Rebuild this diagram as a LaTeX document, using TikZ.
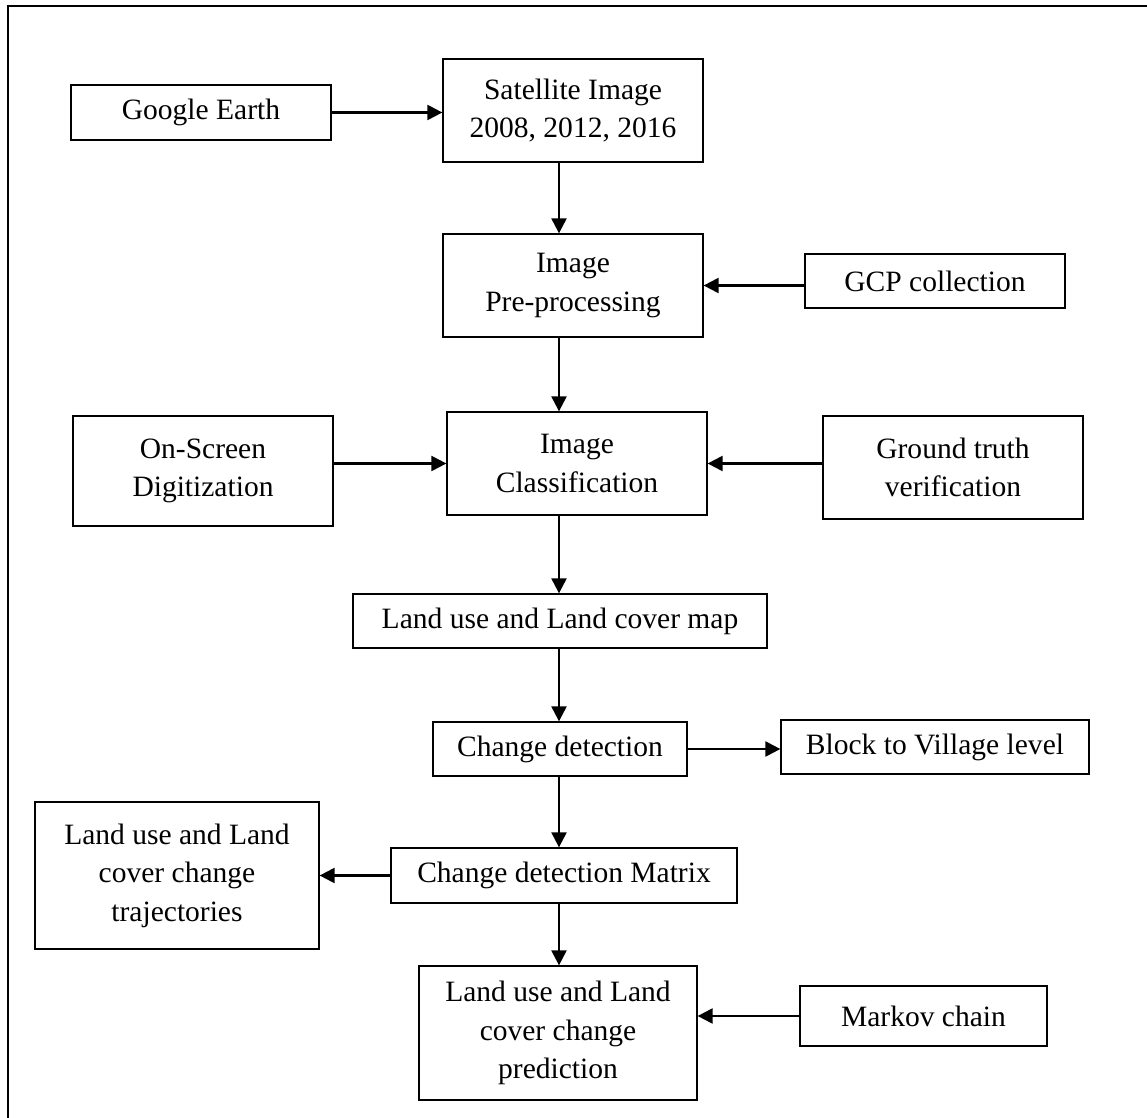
\documentclass[tikz,border=0pt]{standalone}
\usepackage{fontspec}
\setmainfont{Liberation Serif}
\usetikzlibrary{arrows.meta}

\begin{document}
\begin{tikzpicture}[x=0.02cm,y=-0.02cm]
		% Define box and arrow styles
		\tikzset{
			box/.style={draw, line width=0.75pt, align=center, inner sep=0pt, font=\fontsize{16.8pt}{21.9pt}\selectfont},
			flow/.style={-{Triangle[length=8.5pt,width=8.5pt]}, line width=1.25pt}
		}
		
		\useasboundingbox (0,0) rectangle (1147,1118);
		
		% Draw the outer frame (only top and left edges are visible)
		\draw[line width=0.85pt] (8,1118) -- (8,6) -- (1147,6);
		
		% Main column of the flow chart
		\coordinate (axis) at (559,0);
		\node[box, minimum width=5.2cm, minimum height=2.06cm] (sat) at (573,110.5) {Satellite Image\\2008, 2012, 2016};
		\node[box, minimum width=5.2cm, minimum height=2.06cm] (pre) at (573,285.5) {Image\\Pre-processing};
		\node[box, minimum width=5.2cm, minimum height=2.06cm] (cls) at (577,463.5) {Image\\Classification};
		\node[box, minimum width=8.28cm, minimum height=1.08cm] (map) at (560,621) {Land use and Land cover map};
		\node[box, minimum width=5.08cm, minimum height=1.08cm] (cd) at (560,749) {Change detection};
		\node[box, minimum width=6.92cm, minimum height=1.1cm] (cdm) at (564,875.5) {Change detection Matrix};
		\node[box, minimum width=5.56cm, minimum height=2.68cm] (pred) at (558,1033) {Land use and Land\\cover change\\prediction};
		
		% Side boxes
		\node[box, minimum width=5.2cm, minimum height=1.1cm] (ge) at (201,112.5) {Google Earth};
		\node[box, minimum width=5.2cm, minimum height=1.08cm] (gcp) at (935,281) {GCP collection};
		\node[box, minimum width=5.2cm, minimum height=2.2cm] (osd) at (203,471) {On-Screen\\Digitization};
		\node[box, minimum width=5.2cm, minimum height=2.06cm] (gtv) at (953,467.5) {Ground truth\\verification};
		\node[box, minimum width=6.16cm, minimum height=1.08cm] (blk) at (935,747) {Block to Village level};
		\node[box, minimum width=5.68cm, minimum height=2.94cm] (trj) at (177,875.5) {Land use and Land\\cover change\\trajectories};
		\node[box, minimum width=4.94cm, minimum height=1.2cm] (mkv) at (923.5,1016) {Markov chain};
		
		% Vertical arrows down the main column
		\draw[flow] (sat.south -| axis) -- (pre.north -| axis);
		\draw[flow] (pre.south -| axis) -- (cls.north -| axis);
		\draw[flow] (cls.south -| axis) -- (map.north -| axis);
		\draw[flow] (map.south -| axis) -- (cd.north -| axis);
		\draw[flow] (cd.south -| axis) -- (cdm.north -| axis);
		\draw[flow] (cdm.south -| axis) -- (pred.north -| axis);
		
		% Horizontal arrows from and to the side boxes
		\draw[flow] (ge.east) -- (ge.east -| sat.west);
		\draw[flow] (pre.east -| gcp.west) -- (pre.east);
		\draw[flow] (cls.west -| osd.east) -- (cls.west);
		\draw[flow] (cls.east -| gtv.west) -- (cls.east);
		\draw[flow] (cd.east) -- (cd.east -| blk.west);
		\draw[flow] (cdm.west) -- (cdm.west -| trj.east);
		\draw[flow] (mkv.west) -- (mkv.west -| pred.east);
	\end{tikzpicture}
\end{document}
